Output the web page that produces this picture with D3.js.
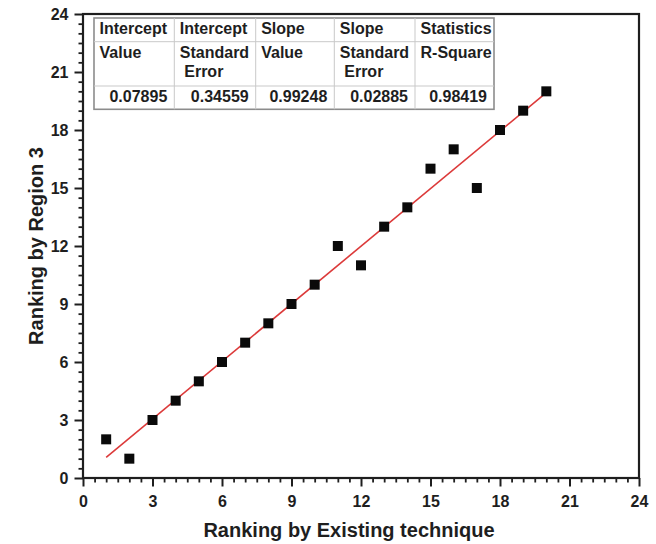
<!DOCTYPE html>
<html>
<head>
<meta charset="utf-8">
<script src="https://cdn.jsdelivr.net/npm/d3@7"></script>
<style>
  body { margin: 0; background: #fff; }
  svg { display: block; }
  text { font-family: "Liberation Sans", Arial, Helvetica, sans-serif; font-weight: bold; fill: #1e1e1e; }
</style>
</head>
<body>
<svg id="chart" width="656" height="544"></svg>
<script>
// Rankings of the 20 items by the existing technique and by Region 3
const existingRank = [1, 2, 3, 4, 5, 6, 7, 8, 9, 10, 11, 12, 13, 14, 15, 16, 17, 18, 19, 20];
const region3Rank  = [2, 1, 3, 4, 5, 6, 7, 8, 9, 10, 12, 11, 13, 14, 16, 17, 15, 18, 19, 20];

// Linear fit results
const fitIntercept = 0.07895;
const fitSlope = 0.99248;

// Axis ticks
const xTicks = [0, 3, 6, 9, 12, 15, 18, 21, 24];
const yTicks = [0, 3, 6, 9, 12, 15, 18, 21, 24];
const minorStep = 0.5;

// Fit statistics table
const tableHeader = ["Intercept", "Intercept", "Slope", "Slope", "Statistics"];
const tableSubHeader = [["Value"], ["Standard", " Error"], ["Value"], ["Standard", " Error"], ["R-Square"]];
const tableValues = ["0.07895", "0.34559", "0.99248", "0.02885", "0.98419"];

const svg = d3.select("#chart");
const plot = { left: 83, right: 639, top: 14, bottom: 478 };

const x = d3.scaleLinear().domain([0, 24]).range([plot.left, plot.right]);
const y = d3.scaleLinear().domain([0, 24]).range([plot.bottom, plot.top]);

const minorValues = d3.range(0, 24 + 1e-9, minorStep).filter(v => !xTicks.includes(v));

// Minor ticks
svg.append("g")
  .attr("transform", `translate(0,${plot.bottom})`)
  .call(d3.axisBottom(x).tickValues(minorValues).tickSize(4.5).tickFormat(""))
  .call(g => g.select(".domain").remove())
  .call(g => g.selectAll("line").attr("stroke", "#1e1e1e").attr("stroke-width", 1.8));
svg.append("g")
  .attr("transform", `translate(${plot.left},0)`)
  .call(d3.axisLeft(y).tickValues(minorValues).tickSize(4.5).tickFormat(""))
  .call(g => g.select(".domain").remove())
  .call(g => g.selectAll("line").attr("stroke", "#1e1e1e").attr("stroke-width", 1.8));

// Major ticks and labels
const xAxis = svg.append("g")
  .attr("transform", `translate(0,${plot.bottom})`)
  .call(d3.axisBottom(x).tickValues(xTicks).tickSize(8.5).tickPadding(9).tickFormat(d3.format("d")));
const yAxis = svg.append("g")
  .attr("transform", `translate(${plot.left},0)`)
  .call(d3.axisLeft(y).tickValues(yTicks).tickSize(8.5).tickPadding(6).tickFormat(d3.format("d")));
[xAxis, yAxis].forEach(a => {
  a.select(".domain").remove();
  a.selectAll("line").attr("stroke", "#1e1e1e").attr("stroke-width", 2);
  a.selectAll("text").attr("font-size", 16).attr("fill", "#1e1e1e")
    .attr("font-family", "\"Liberation Sans\", Arial, sans-serif").attr("font-weight", "bold");
});

// Plot frame
svg.append("rect")
  .attr("x", plot.left).attr("y", plot.top)
  .attr("width", plot.right - plot.left).attr("height", plot.bottom - plot.top)
  .attr("fill", "none").attr("stroke", "#1e1e1e").attr("stroke-width", 2.2);

// Fitted line over the data range
const xExtent = d3.extent(existingRank);
svg.append("line")
  .attr("x1", x(xExtent[0])).attr("y1", y(fitIntercept + fitSlope * xExtent[0]))
  .attr("x2", x(xExtent[1])).attr("y2", y(fitIntercept + fitSlope * xExtent[1]))
  .attr("stroke", "#dc3a3a").attr("stroke-width", 1.6);

// Data points
const pts = existingRank.map((v, i) => ({ xv: v, yv: region3Rank[i] }));
const sq = 10;
svg.append("g").selectAll("rect").data(pts).join("rect")
  .attr("x", d => x(d.xv) - sq / 2)
  .attr("y", d => y(d.yv) - sq / 2)
  .attr("width", sq).attr("height", sq)
  .attr("fill", "#0a0a0a");

// Axis titles
svg.append("text")
  .attr("x", 349).attr("y", 536.5)
  .attr("text-anchor", "middle").attr("font-size", 20)
  .text("Ranking by Existing technique");
svg.append("text")
  .attr("transform", `translate(43,${(plot.top + plot.bottom) / 2}) rotate(-90)`)
  .attr("text-anchor", "middle").attr("font-size", 20)
  .text("Ranking by Region 3");

// Statistics table
const colEdges = [94, 174.3, 255.7, 334.3, 415, 494];
const rowEdges = [18, 41.7, 86, 109.3];
const table = svg.append("g");
table.append("rect")
  .attr("x", colEdges[0]).attr("y", rowEdges[0])
  .attr("width", colEdges[5] - colEdges[0]).attr("height", rowEdges[3] - rowEdges[0])
  .attr("fill", "#fff").attr("stroke", "#8c8c8c").attr("stroke-width", 1.6);
table.selectAll("line.col").data(colEdges.slice(1, -1)).join("line")
  .attr("class", "col")
  .attr("x1", d => d).attr("x2", d => d)
  .attr("y1", rowEdges[0]).attr("y2", rowEdges[3])
  .attr("stroke", "#c9c9c9").attr("stroke-width", 1);
table.selectAll("line.row").data(rowEdges.slice(1, -1)).join("line")
  .attr("class", "row")
  .attr("x1", colEdges[0]).attr("x2", colEdges[5])
  .attr("y1", d => d).attr("y2", d => d)
  .attr("stroke", "#c9c9c9").attr("stroke-width", 1);

tableHeader.forEach((h, i) => {
  table.append("text")
    .attr("x", colEdges[i] + 5.5).attr("y", 33.5)
    .attr("font-size", 16).text(h);
  tableSubHeader[i].forEach((s, j) => {
    table.append("text")
      .attr("x", colEdges[i] + 5.5).attr("y", 57.7 + j * 19)
      .attr("font-size", 16).attr("xml:space", "preserve")
      .style("white-space", "pre").text(s);
  });
  table.append("text")
    .attr("x", colEdges[i + 1] - 7).attr("y", 101.7)
    .attr("text-anchor", "end").attr("font-size", 16)
    .text(tableValues[i]);
});
</script>
</body>
</html>
